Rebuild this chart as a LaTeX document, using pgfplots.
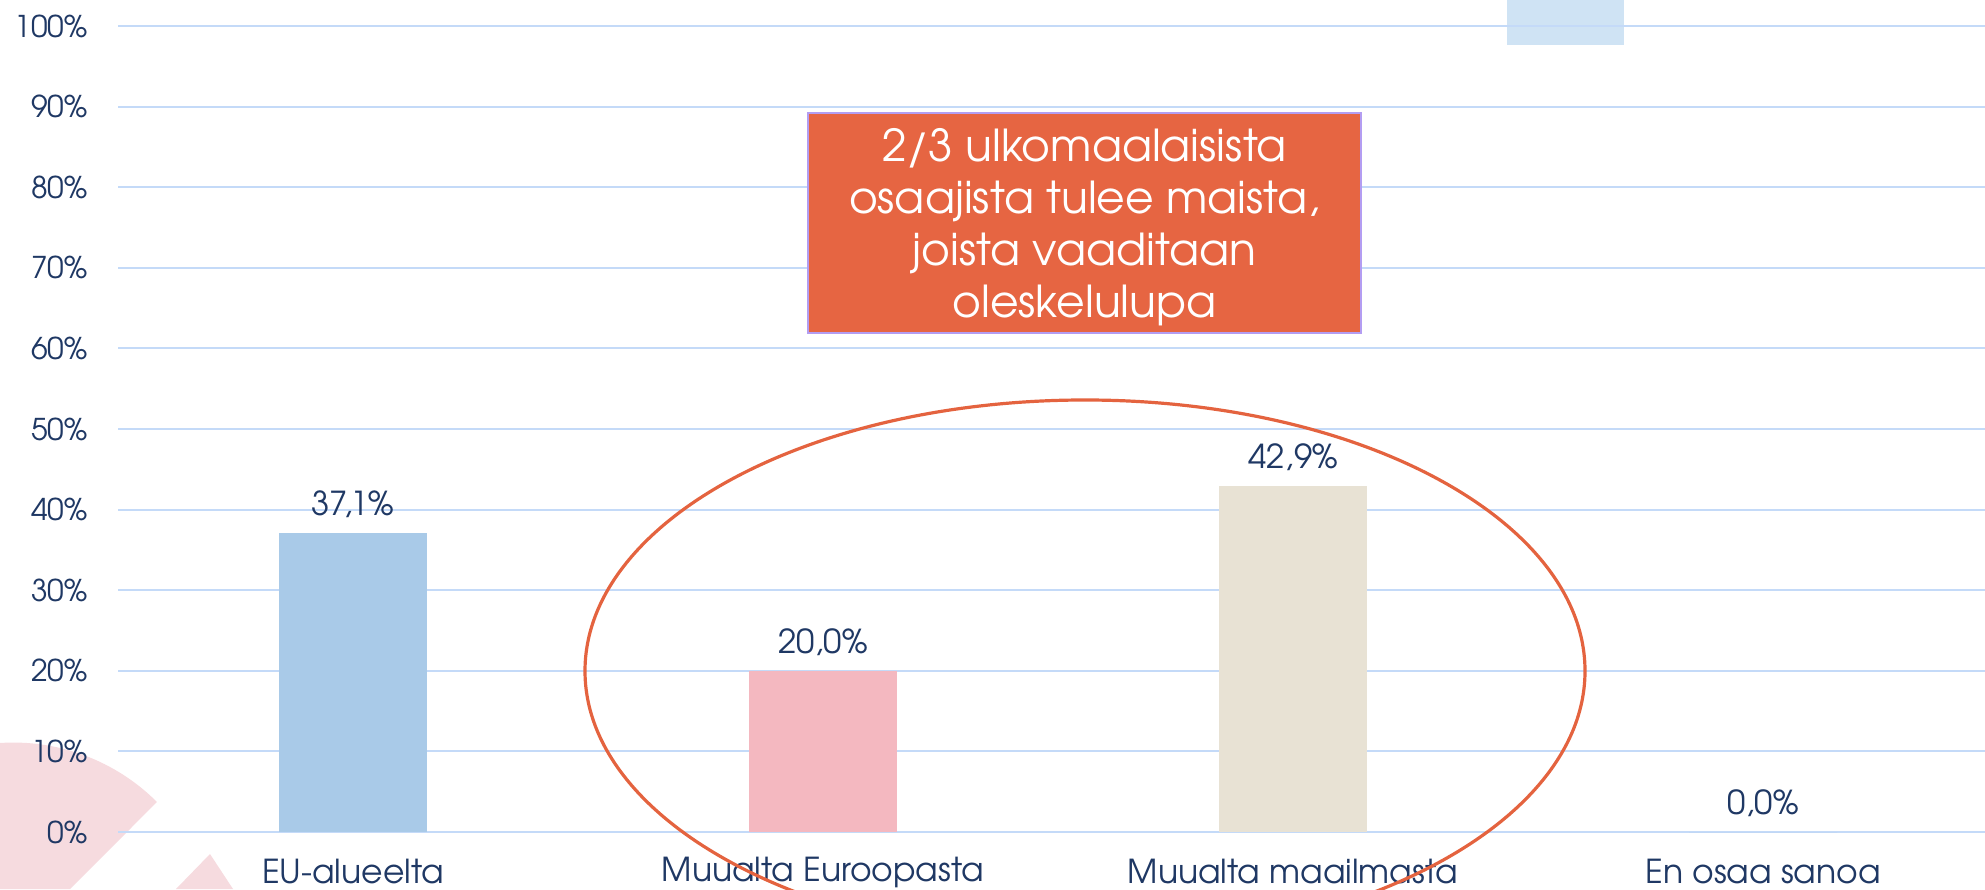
\documentclass[border=0pt]{standalone}
\usepackage{pgfplots}
\pgfplotsset{compat=1.18}
\usepackage{fontspec}
\setmainfont{TeX Gyre Adventor}
\definecolor{navy}{HTML}{1F3864}
\definecolor{gridc}{HTML}{C4DAF8}
\definecolor{barA}{HTML}{A9CAE8}
\definecolor{barB}{HTML}{F4B8C0}
\definecolor{barC}{HTML}{E8E2D4}
\definecolor{ell}{HTML}{E4633F}
\definecolor{boxf}{HTML}{E66542}
\definecolor{boxd}{HTML}{B39DF2}
\definecolor{pinkd}{HTML}{F6DBDF}
\definecolor{trc}{HTML}{CFE3F4}
\begin{document}
\begin{tikzpicture}[x=0.5pt,y=0.5pt]
\clip (0,0) rectangle (1985,889);
% background decorations
\fill[pinkd] (0,146) arc[start angle=93.8, end angle=45, radius=101.5pt] -- (70,0) -- (0,0) -- cycle;
\fill[pinkd] (210,35) -- (233,0) -- (176,0) -- cycle;
\fill[trc] (1507,844) rectangle (1624,895);
\begin{axis}[
  at={(59pt,28.5pt)}, anchor=south west,
  scale only axis, width=933.5pt, height=403pt,
  xmin=-0.5, xmax=3.472, ymin=0, ymax=100,
  axis line style={draw=none},
  ytick={0,10,...,100},
  yticklabels={0\%,10\%,20\%,30\%,40\%,50\%,60\%,70\%,80\%,90\%,100\%},
  xtick={0,1,2,3},
  xticklabels={EU-alueelta,Muualta Euroopasta,Muualta maailmasta,En osaa sanoa},
  major tick length=0pt,
  ymajorgrids, grid style={color=gridc, line width=1pt},
  yticklabel style={font=\fontsize{15}{18}\selectfont, text=navy, anchor=east, inner sep=0pt, xshift=-15pt},
  xticklabel style={font=\fontsize{16.5}{19}\selectfont, text=navy, anchor=center, inner sep=0pt, yshift=-20pt},
  clip=false,
  nodes near coords={\pgfmathprintnumber[fixed,fixed zerofill,precision=1,use comma,assume math mode=true]{\pgfplotspointmeta}\%},
  every node near coord/.append style={font=\fontsize{16.5}{19}\selectfont, text=navy, anchor=center, yshift=14.5pt, inner sep=0pt},
]
\addplot[ybar, bar width=74pt, bar shift=0pt, fill=barA, draw=none] coordinates {(0,37.1)};
\addplot[ybar, bar width=74pt, bar shift=0pt, fill=barB, draw=none] coordinates {(1,20.0)};
\addplot[ybar, bar width=74pt, bar shift=0pt, fill=barC, draw=none] coordinates {(2,42.9)};
\addplot[ybar, bar width=74pt, bar shift=0pt, fill=barA, draw=none] coordinates {(3,0.0)};
\end{axis}
\draw[ell, line width=1.6pt] (1085,218) ellipse [x radius=250pt, y radius=135.5pt];
\draw[boxd, line width=0.6pt, fill=boxf] (808,776) rectangle (1361,556);
\node[text=white, align=center, font=\fontsize{22}{26}\selectfont] at (1084.5,662) {2/3 ulkomaalaisista\\osaajista tulee maista,\\joista vaaditaan\\oleskelulupa};
\end{tikzpicture}
\end{document}
